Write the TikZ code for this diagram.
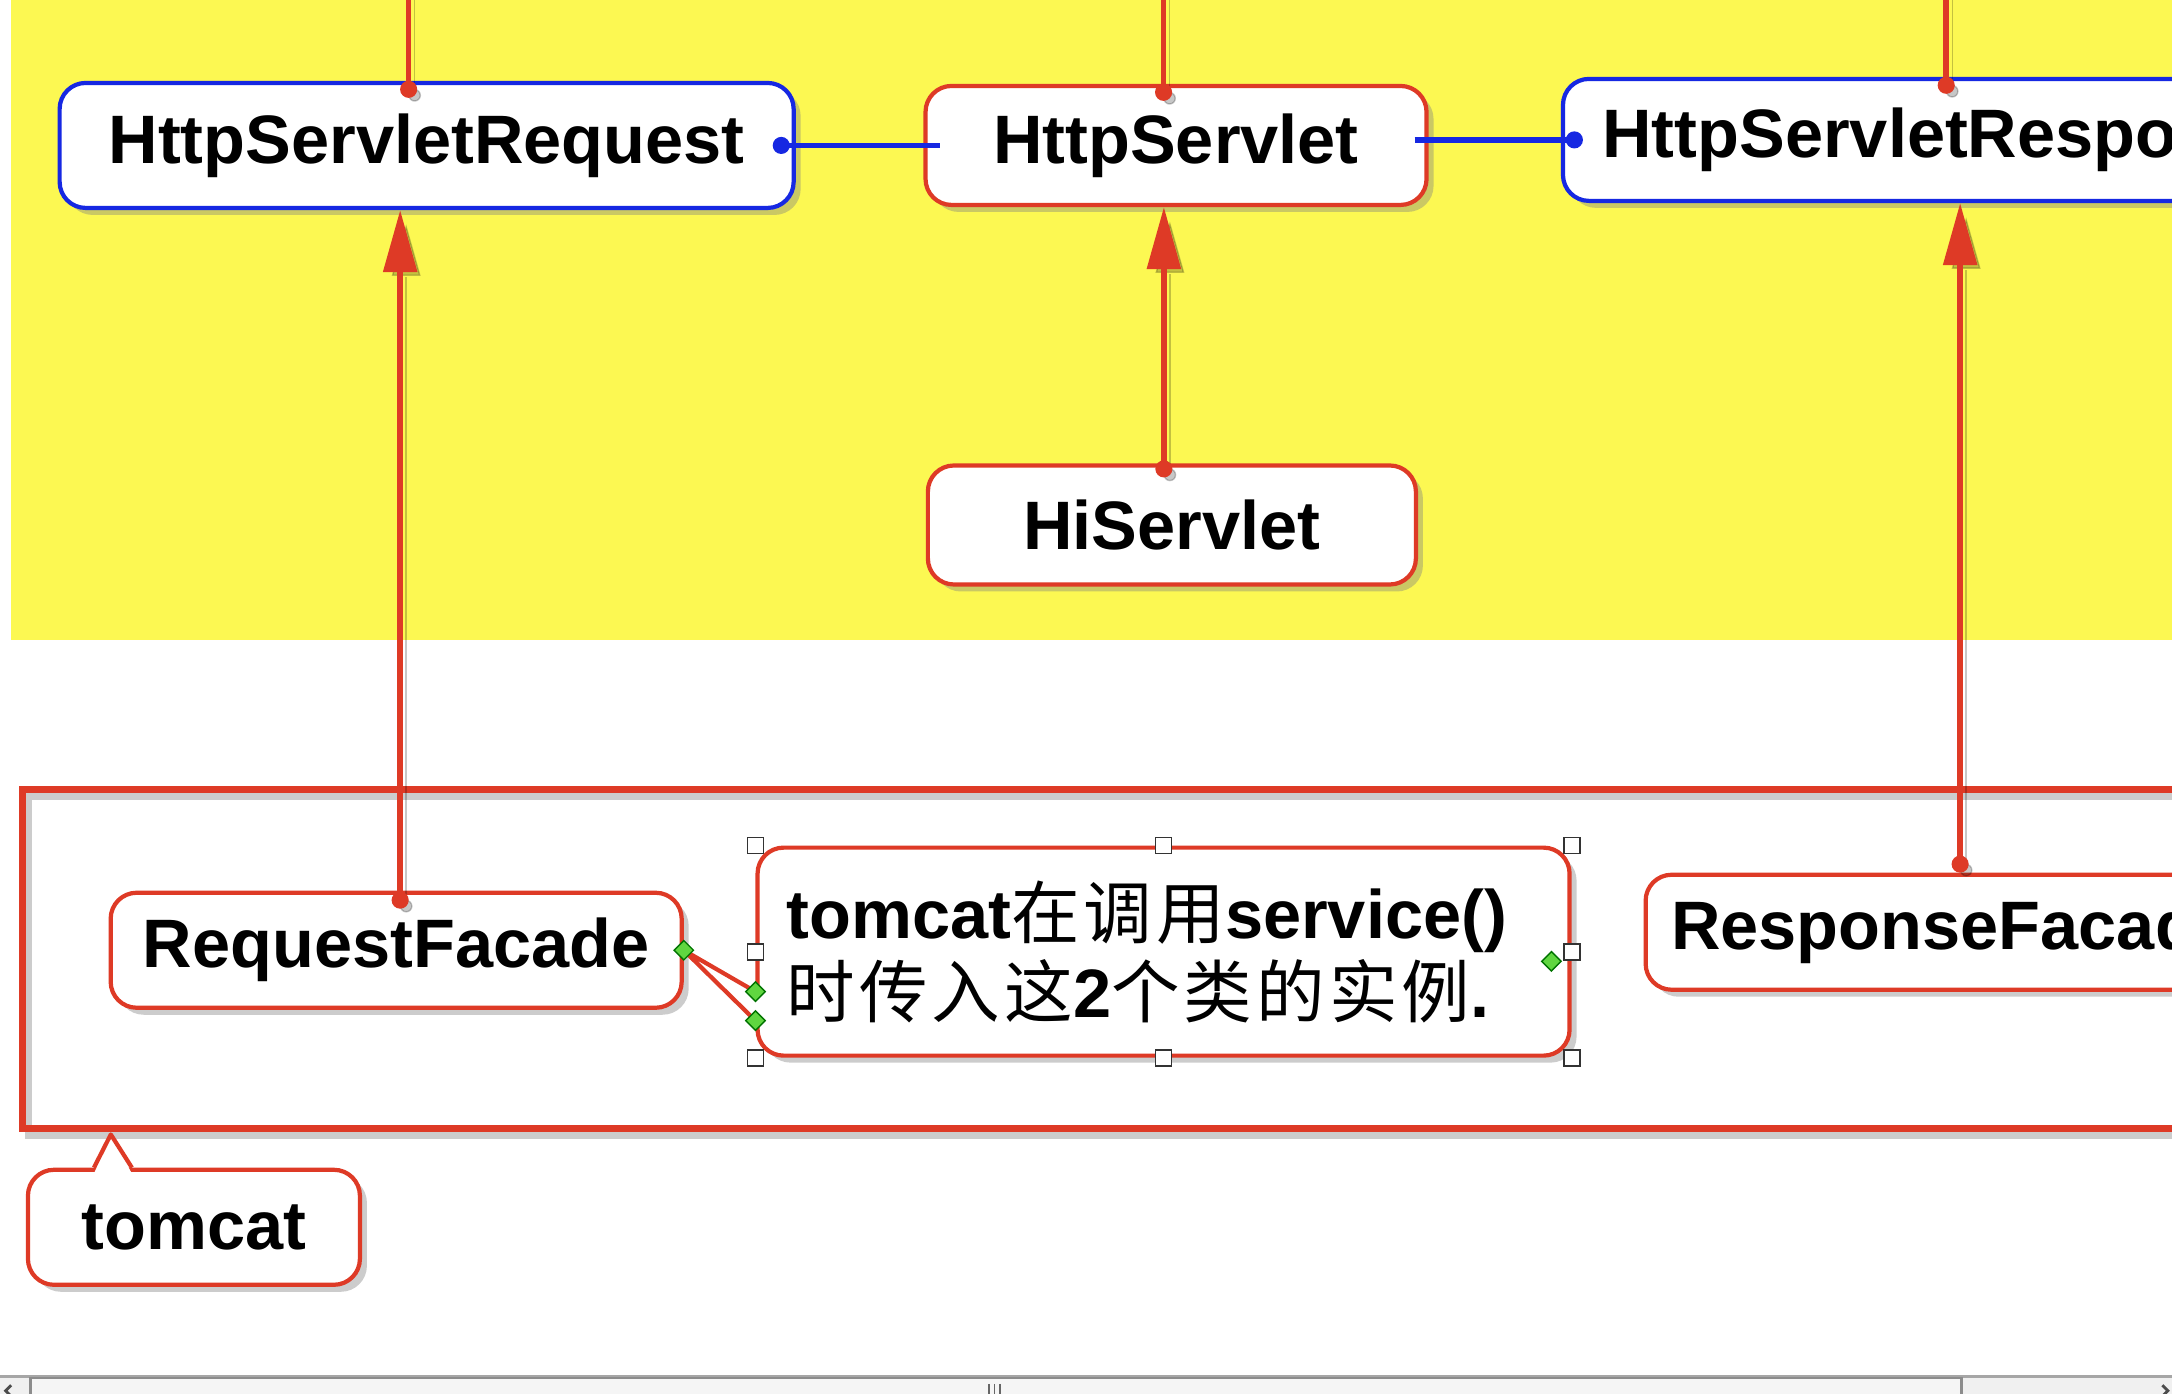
\documentclass[tikz,border=0pt]{standalone}
\usepackage{fontspec}
\setmainfont{Liberation Sans}
\newfontfamily\cjk{Noto Sans CJK SC}[LetterSpace=6]
\usetikzlibrary{arrows.meta,shadows,shapes.geometric}

\definecolor{bgyellow}{RGB}{252,248,82}
\definecolor{clsred}{RGB}{222,58,38}
\definecolor{ifblue}{RGB}{22,40,226}
\definecolor{gripgreen}{RGB}{96,214,64}

\begin{document}
\begin{tikzpicture}[x=0.13852mm, y=-0.13852mm,
    box/.style ={rectangle, rounded corners=2.6mm, fill=white, line width=1.2pt, inner sep=0pt,
        font=\fontsize{19.5pt}{22.4pt}\selectfont\bfseries,
        drop shadow={shadow xshift=0.7mm, shadow yshift=-0.7mm, opacity=0.4}},
    iface/.style ={box, draw=ifblue},
    cls/.style ={box, draw=clsred},
    lshadow/.style ={preaction={draw=black, opacity=0.22, transform canvas={shift={(0.6mm,-0.6mm)}}}},
    link/.style ={draw=clsred, line width=1.6pt, lshadow},
    blink/.style ={draw=ifblue, line width=1.6pt},
    ballend/.tip ={Circle[length=1.7mm]},
    spear/.tip ={Triangle[length=6.2mm, width=3.3mm]},
    pointer/.style ={draw=clsred, line width=1.2pt, line join=round},
    handle/.style ={rectangle, draw=black!80, fill=white, line width=0.5pt, minimum size=1.6mm, inner sep=0pt},
    grip/.style ={diamond, draw=green!45!black, fill=gripgreen, line width=0.4pt, minimum size=2mm, inner sep=0pt}]

   \useasboundingbox (0,0) rectangle (1568,1006);
   \clip (0,0) rectangle (1568,1006);
   \fill[bgyellow] (8,-5) rectangle (1580,462);

   % tomcat container
   \node[rectangle, draw=clsred, line width=2pt, inner sep=0pt, minimum width=222.2mm, minimum height=33.9mm,
         preaction={draw=black, opacity=0.2, line width=2pt, transform canvas={shift={(0.6mm,-0.7mm)}}}]
         (tc) at (818,692) {};

   \node[iface, minimum width=73.4mm, minimum height=12.5mm] (req) at (308,105) {HttpServletRequest};
   \node[cls, minimum width=50.1mm, minimum height=11.9mm] (servlet) at (849,105) {HttpServlet};
   \node[iface, minimum width=77.2mm, minimum height=12.2mm] (resp) at (1407,101) {HttpServletResponse};
   \node[cls, minimum width=48.8mm, minimum height=11.9mm] (hi) at (846,379) {HiServlet};

   \node[cls, minimum width=57.1mm, minimum height=11.5mm] (reqf) at (286,686) {RequestFacade};
   \node[cls, minimum width=61.5mm, minimum height=11.5mm] (resf) at (1410,673) {ResponseFacade};
   \node[cls, align=left, text width=75.4mm, inner xsep=2.9mm, minimum height=20.8mm] (note) at (840,687)
        {tomcat{\cjk\mdseries 在调用}service()\\{\cjk\mdseries 时传入这}2{\cjk\mdseries 个类的实例}.};
   \node[cls, minimum width=33.2mm, minimum height=11.5mm] (tclabel) at (140,886) {tomcat};

   \coordinate (top1) at (295,-10);
   \coordinate (top2) at (840,-10);
   \coordinate (top3) at (1405,-10);
   \coordinate (tcTip) at (80,819);

   % lines from above
   \draw[link, -{ballend}] (top1) to ([yshift=-1.7mm]top1 |- req.north);
   \draw[link, -{ballend}] (top2) to ([yshift=-1.7mm]top2 |- servlet.north);
   \draw[link, -{ballend}] (top3) to ([yshift=-1.7mm]top3 |- resp.north);

   % implementations
   \draw[link, {ballend}-{spear}] ([xshift=0.4mm, yshift=-1.8mm]reqf.north) to ([xshift=0.4mm]reqf.north |- req.south);
   \draw[link, {ballend}-{spear}] ([xshift=-0.8mm, yshift=-1.4mm]hi.north) to ([xshift=-0.8mm]hi.north |- servlet.south);
   \draw[link, {ballend}-{spear}] ([xshift=0.7mm]resf.north) to ([xshift=0.7mm]resf.north |- resp.south);

   \draw[blink, {ballend}-] ([xshift=-2.3mm]req.east) to ([xshift=1.7mm]servlet.west |- req.east);
   \draw[blink, -{ballend}] ([xshift=-1.4mm]servlet.east |- resp.west) to ([xshift=2.2mm]resp.west);

   % callout pointers
   \fill[white] ([xshift=0.6mm, yshift=-4mm]note.west) -- (reqf.east) -- ([xshift=0.6mm, yshift=-6.9mm]note.west) -- cycle;
   \draw[pointer] ([yshift=-4mm]note.west) -- (reqf.east) -- ([yshift=-6.9mm]note.west);
   \fill[white] ([xshift=-10mm, yshift=-0.6mm]tclabel.north) -- (tcTip) -- ([xshift=-6.2mm, yshift=-0.6mm]tclabel.north) -- cycle;
   \draw[pointer] ([xshift=-10mm]tclabel.north) -- (tcTip) -- ([xshift=-6.2mm]tclabel.north);

   % selection handles
   \foreach \a/\n in {north west/1, north/2, north east/3, east/4, south east/5, south/6, south west/7, west/8}
      \node[handle] (hd\n) at (note.\a) {};
   \node[grip] (g1) at (reqf.east) {};
   \node[grip] (g2) at ([yshift=-4mm]note.west) {};
   \node[grip] (g3) at ([yshift=-6.9mm]note.west) {};
   \node[grip] (g4) at (1120,694) {};

   % scroll bar
   \fill[black!6] (0,994) rectangle (1568,1010);
   \draw[black!35, line width=0.8pt] (0,994) -- (1568,994);
   \draw[black!45, fill=black!4, line width=0.6pt] (22,995) rectangle (1416,1012);
   \foreach \x in {714,718,722}
      \draw[black!60, line width=0.5pt] (\x,999) -- (\x,1008);
   \draw[black!70, line width=0.8pt] (8,1000) -- (4,1004) -- (8,1008);
   \draw[black!70, line width=0.8pt] (1561,1000) -- (1565,1004) -- (1561,1008);

 \end{tikzpicture}
\end{document}
